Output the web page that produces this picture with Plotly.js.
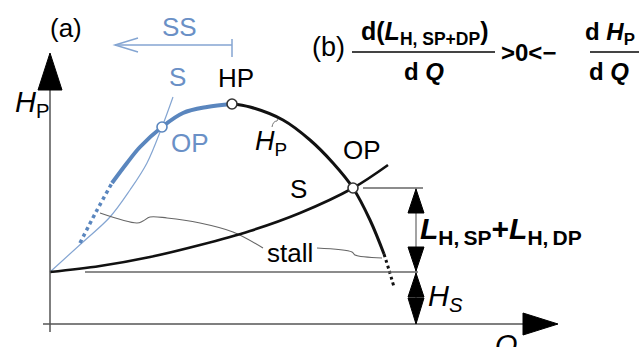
<!DOCTYPE html>
<html>
<head>
<meta charset="utf-8">
<script src="https://cdn.plot.ly/plotly-3.0.1.min.js"></script>
<style>
  html, body { margin: 0; padding: 0; background: #fff; }
  #chart { width: 639px; height: 347px; }
</style>
</head>
<body>
<div id="chart"></div>
<script>
// Pump head curve H_P(Q): unstable (rising) branch up to the head peak HP
const pumpRiseQ = [6.2, 7.7, 9.0, 11.2, 13.3, 15.7, 18.2];
const pumpRiseH = [14.1, 16.1, 17.7, 19.7, 21.1, 21.7, 22.0];
// continuation of the rising branch into the stall region (dotted)
const pumpStallQ = [3.0, 4.6, 6.2];
const pumpStallH = [8.1, 11.2, 14.1];
// stable (falling) branch after HP
const pumpFallQ = [18.2, 20.0, 23.3, 26.0, 28.3, 30.3, 32.0, 33.4];
const pumpFallH = [22.0, 21.7, 20.4, 18.4, 16.1, 13.6, 10.4, 7.0];
// run-out end of the falling branch (dotted)
const pumpEndQ = [33.4, 33.9, 34.4];
const pumpEndH = [7.0, 5.4, 3.7];

// System curve S = H_s + L_H,SP + L_H,DP
const sysQ = [0, 5, 10, 15, 20, 25, 30.3, 33.8];
const sysH = [5.2, 5.8, 6.7, 7.9, 9.3, 11.1, 13.6, 15.9];
// steeper (throttled) system curve
const sysSteepQ = [0, 3.3, 6.0, 8.0, 9.7, 11.2, 12.3];
const sysSteepH = [5.2, 8.2, 10.7, 13.4, 16.1, 19.7, 22.7];

// leader lines from the "stall" label
const stallLeftQ = [5.0, 8.7, 9.3, 10.0, 11.7, 15.0, 18.3, 21.3];
const stallLeftH = [11.1, 10.1, 10.3, 10.7, 10.6, 10.1, 9.2, 7.6];
const stallRightQ = [26.7, 30.2, 30.5, 33.2];
const stallRightH = [7.6, 7.2, 6.9, 6.6];

// marked points: head peak HP, stable OP, unstable OP
const pointQ = [18.2, 30.3, 11.2];
const pointH = [22.0, 13.6, 19.7];
const pointEdge = ['#333333', '#333333', '#5a86be'];

// static head and dimension line position
const staticHead = 5.2;
const dimQ = 36.6;
const opHead = pointH[1];

const BLUE = '#5a86be';
const LIGHT = '#84a5d2';
const TXTBLUE = '#6a90c6';
const GREY = '#555555';

function line(x, y, color, width, dash) {
  return { x: x, y: y, mode: 'lines', hoverinfo: 'skip',
           line: { color: color, width: width, shape: 'spline', smoothing: 1, dash: dash || 'solid' } };
}

const traces = [
  line(sysSteepQ, sysSteepH, LIGHT, 1.2),
  line(stallLeftQ, stallLeftH, '#666666', 1.1),
  line(stallRightQ, stallRightH, '#666666', 1.1),
  line(sysQ, sysH, '#111111', 2.6),
  line(pumpStallQ, pumpStallH, BLUE, 3.5, 'dot'),
  line(pumpRiseQ, pumpRiseH, BLUE, 4),
  line(pumpFallQ, pumpFallH, '#111111', 3),
  line(pumpEndQ, pumpEndH, '#111111', 3, 'dot'),
  { x: pointQ, y: pointH, mode: 'markers', hoverinfo: 'skip',
    marker: { size: 10, color: '#ffffff', line: { color: pointEdge, width: 1.6 } } }
];

// filled triangle for arrowheads
function tri(pts) {
  return 'M' + pts.map(p => p[0] + ',' + p[1]).join(' L') + ' Z';
}
function filled(pts) {
  return { type: 'path', xref: 'x', yref: 'y', path: tri(pts),
           fillcolor: '#000000', line: { color: '#000000', width: 1 } };
}
function seg(x0, y0, x1, y1, color, width) {
  return { type: 'line', xref: 'x', yref: 'y', x0: x0, y0: y0, x1: x1, y1: y1,
           line: { color: color, width: width } };
}

const hTop = 27.1, hBase = 23.4, qTip = 50.8, qBase = 47.3;
const shapes = [
  // axes with arrowheads
  seg(0, -0.8, 0, hBase, GREY, 1.5),
  filled([[0, hTop], [-1.2, hBase], [1.2, hBase]]),
  seg(-0.7, 0, qBase, 0, GREY, 1.5),
  filled([[qTip, 0], [qBase, 1.1], [qBase, -1.1]]),
  // static head level and operating point level
  seg(3.5, staticHead, dimQ + 0.2, staticHead, '#666666', 1.5),
  seg(31.3, opHead, 37.3, opHead, '#666666', 1.5),
  // dimension line for losses and static head
  seg(dimQ, 0, dimQ, opHead, '#666666', 1.2),
  filled([[dimQ, opHead - 0.1], [dimQ - 0.8, opHead - 2.5], [dimQ + 0.8, opHead - 2.5]]),
  filled([[dimQ, staticHead + 0.1], [dimQ - 0.8, staticHead + 2.5], [dimQ + 0.8, staticHead + 2.5]]),
  filled([[dimQ, staticHead - 0.1], [dimQ - 0.8, staticHead - 2.5], [dimQ + 0.8, staticHead - 2.5]]),
  filled([[dimQ, 0], [dimQ - 0.8, 2.6], [dimQ + 0.8, 2.6]]),
  // SS arrow (shift of the operating point towards smaller flow)
  seg(6.5, 27.9, 18.2, 27.9, LIGHT, 1.5),
  seg(18.2, 26.7, 18.2, 28.5, LIGHT, 1.5),
  { type: 'path', xref: 'x', yref: 'y', path: 'M8.8,28.6 L6.5,27.9 L8.8,27.2',
    line: { color: LIGHT, width: 1.5 } },
  // small leader to the H_P curve label
  { type: 'path', xref: 'x', yref: 'y', path: 'M22.2,19.7 Q22.3,20.3 22.7,20.3 L22.8,20.5',
    line: { color: '#777777', width: 1 } },
  // fraction bars of the stability criterion
  seg(30.2, 27.2, 44.5, 27.2, '#444444', 2),
  seg(54.0, 27.2, 59.5, 27.2, '#444444', 2)
];

const F = 'Liberation Sans, Arial, sans-serif';
function txt(x, y, text, size, color, xa, ya) {
  return { x: x, y: y, xref: 'x', yref: 'y', text: text, showarrow: false,
           xanchor: xa || 'center', yanchor: ya || 'middle',
           font: { family: F, size: size, color: color || '#000000' } };
}

const annotations = [
  txt(1.6, 29.6, '(a)', 26),
  txt(12.9, 29.7, 'SS', 26, TXTBLUE),
  txt(12.7, 24.7, 'S', 26, TXTBLUE),
  txt(18.6, 24.6, 'HP', 26),
  txt(14.0, 18.1, 'OP', 26, TXTBLUE),
  txt(20.3, 18.1, '<i>H</i><sub>P</sub>', 27, '#000', 'left'),
  txt(31.2, 17.4, 'OP', 26),
  txt(24.8, 13.5, 'S', 26),
  txt(24.0, 7.1, 'stall', 26),
  txt(-3.7, 22.0, '<i>H</i><sub>P</sub>', 29, '#000', 'left'),
  txt(36.8, 9.4, '<b><i>L</i><sub>H,\u2009SP</sub>+<i>L</i><sub>H,\u2009DP</sub></b>', 30, '#000', 'left'),
  txt(37.6, 2.6, '<i>H</i><sub><i>S</i></sub>', 29, '#000', 'left'),
  txt(45.6, -0.3, '<i>Q</i>', 29, '#000', 'center', 'top'),
  txt(26.0, 27.7, '(b)', 27, '#000', 'left'),
  txt(37.4, 29.1, '<b>d(<i>L</i><sub>H, SP+DP</sub>)</b>', 25),
  txt(37.4, 25.3, '<b>d <i>Q</i></b>', 24),
  txt(44.9, 27.2, '<b>&gt;0&lt;−</b>', 24, '#000', 'left'),
  txt(53.3, 29.1, '<b>d <i>H</i><sub>P</sub></b>', 24, '#000', 'left'),
  txt(53.7, 25.3, '<b>d <i>Q</i></b>', 24, '#000', 'left')
];

const layout = {
  width: 639, height: 347,
  margin: { l: 0, r: 0, t: 0, b: 0 },
  paper_bgcolor: '#ffffff', plot_bgcolor: '#ffffff',
  showlegend: false,
  xaxis: { range: [-5, 58.9], visible: false, fixedrange: true },
  yaxis: { range: [-2.3, 32.4], visible: false, fixedrange: true },
  shapes: shapes,
  annotations: annotations
};

Plotly.newPlot('chart', traces, layout, { staticPlot: true, displayModeBar: false });
</script>
</body>
</html>
